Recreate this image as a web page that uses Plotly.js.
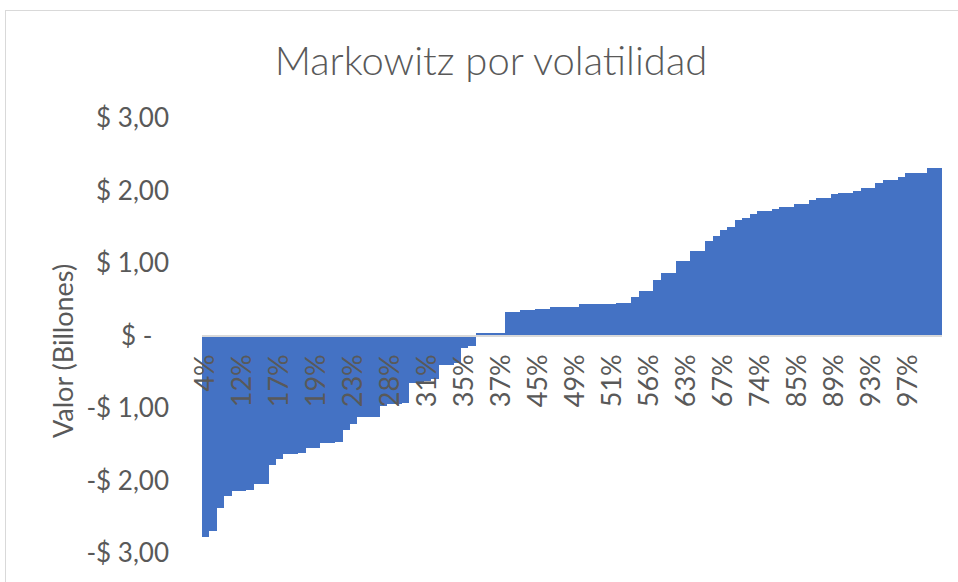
<!DOCTYPE html>
<html>
<head>
<meta charset="utf-8">
<script src="https://cdn.plot.ly/plotly-3.0.1.min.js"></script>
<style>
  html, body { margin: 0; padding: 0; background: #ffffff; }
  #wrap { position: relative; width: 958px; height: 582px; overflow: hidden; }
  #chart { position: absolute; left: 0; top: 0; width: 958px; height: 582px; }
  #frame { position: absolute; left: 5px; top: 10px; width: 1000px; height: 700px;
           border: 1px solid #d9d9d9; pointer-events: none; }
</style>
</head>
<body>
<div id="wrap">
  <div id="chart"></div>
  <div id="frame"></div>
</div>
<script>
// Volatility tick labels shown on the category axis (every 5th portfolio)
const tickLabels = ["4%", "12%", "17%", "19%", "23%", "28%", "31%", "35%", "37%", "45%",
                    "49%", "51%", "56%", "63%", "67%", "74%", "85%", "89%", "93%", "97%"];
const tickEvery = 5;

// Portfolio value (billions) for each of the 100 portfolios, sorted by volatility
const values = [
  -2.78, -2.70, -2.38, -2.22, -2.14, -2.14, -2.13, -2.05, -2.05, -1.79,
  -1.71, -1.63, -1.63, -1.62, -1.55, -1.55, -1.48, -1.48, -1.47, -1.30,
  -1.22, -1.13, -1.13, -1.12, -0.97, -0.95, -0.95, -0.93, -0.66, -0.64,
  -0.63, -0.60, -0.40, -0.40, -0.38, -0.17, -0.15, 0.03, 0.03, 0.03,
  0.03, 0.33, 0.33, 0.35, 0.35, 0.37, 0.37, 0.39, 0.39, 0.39,
  0.39, 0.44, 0.44, 0.44, 0.44, 0.44, 0.45, 0.45, 0.53, 0.61,
  0.61, 0.76, 0.86, 0.86, 1.03, 1.03, 1.16, 1.16, 1.30, 1.37,
  1.45, 1.50, 1.60, 1.62, 1.67, 1.72, 1.72, 1.74, 1.77, 1.77,
  1.82, 1.82, 1.87, 1.90, 1.90, 1.95, 1.97, 1.97, 2.00, 2.04,
  2.04, 2.10, 2.14, 2.14, 2.19, 2.24, 2.24, 2.24, 2.31, 2.31
];

// Value axis ticks
const yTickValues = [-3, -2, -1, 0, 1, 2, 3];
const yTickText = ["-$ 3,00", "-$ 2,00", "-$ 1,00", "$ -\u00A0\u00A0\u2009", "$ 1,00", "$ 2,00", "$ 3,00"];

const xIndex = values.map((_, i) => i);
const xTickVals = tickLabels.map((_, i) => i * tickEvery);

const font = "Lato, 'Open Sans', sans-serif";
const grey = "#595959";

const trace = {
  type: "bar",
  x: xIndex,
  y: values,
  marker: { color: "#4472C4", line: { width: 0 } },
  hoverinfo: "skip"
};

const layout = {
  width: 958,
  height: 582,
  margin: { l: 202, r: 16, t: 118, b: 29, pad: 0 },
  paper_bgcolor: "#ffffff",
  plot_bgcolor: "#ffffff",
  showlegend: false,
  bargap: 0,
  title: {
    text: "Markowitz por volatilidad",
    font: { family: font, size: 40, color: grey, weight: 300 },
    xref: "container", x: 0.5125, xanchor: "center",
    yref: "container", y: 0.895, yanchor: "middle"
  },
  xaxis: {
    range: [-0.5, values.length - 0.5],
    anchor: "free",
    position: 0.5,
    tickmode: "array",
    tickvals: xTickVals,
    ticktext: tickLabels,
    tickangle: -90,
    ticks: "",
    ticklabelstandoff: 7,
    showline: true,
    linecolor: "#d9d9d9",
    linewidth: 2,
    showgrid: false,
    zeroline: false,
    tickfont: { family: font, size: 27, color: grey }
  },
  yaxis: {
    range: [-3, 3],
    tickmode: "array",
    tickvals: yTickValues,
    ticktext: yTickText,
    showgrid: false,
    zeroline: false,
    showline: false,
    ticks: "",
    ticklabelstandoff: 32,
    tickfont: { family: font, size: 26, color: grey }
  },
  annotations: [{
    text: "Valor (Billones)",
    textangle: -90,
    xref: "paper", x: (62 - 202) / 740, xanchor: "center",
    yref: "paper", y: (553 - 351) / 435, yanchor: "middle",
    showarrow: false,
    font: { family: font, size: 27, color: grey }
  }]
};

Plotly.newPlot("chart", [trace], layout, { displayModeBar: false, staticPlot: true });
</script>
</body>
</html>
